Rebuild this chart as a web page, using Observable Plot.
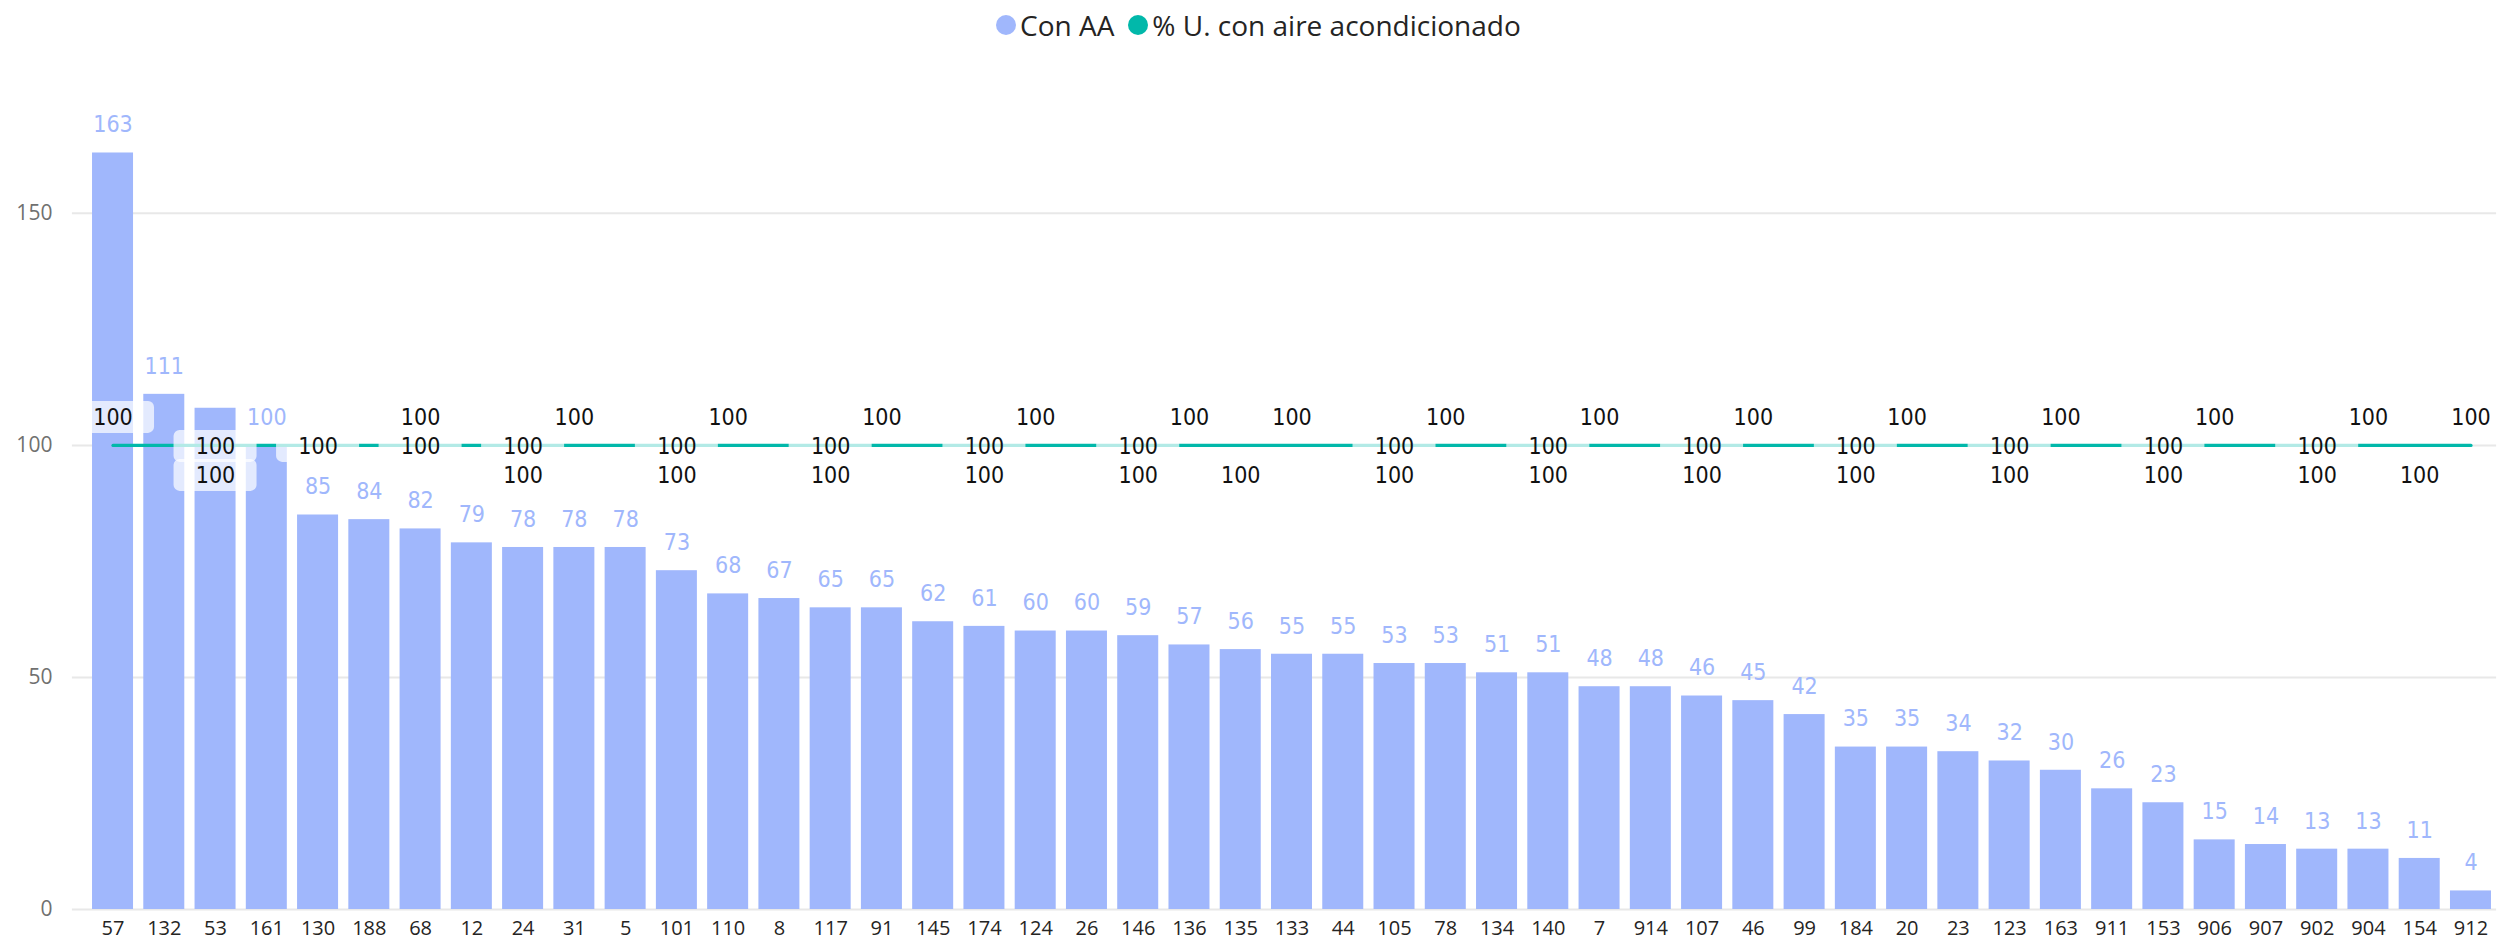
<!DOCTYPE html>
<html>
<head>
<meta charset="utf-8">
<script src="https://cdn.jsdelivr.net/npm/d3@7"></script>
<script src="https://cdn.jsdelivr.net/npm/@observablehq/plot@0.6"></script>
<style>
  html, body { margin: 0; padding: 0; background: #fff; }
  #legend { height: 50px; display: flex; align-items: center; padding-left: 996px;
            font-family: "Open Sans", sans-serif; font-size: 28px; color: #252423; white-space: nowrap; }
  #legend .sw { width: 20px; height: 20px; border-radius: 50%; display: inline-block; margin-right: 4px; }
  #legend .item { display: flex; align-items: center; margin-right: 14px; }
  #chart svg { display: block; }
</style>
</head>
<body>
<div id="legend"></div>
<div id="chart"></div>
<script>
const categories = ["57","132","53","161","130","188","68","12","24","31","5","101","110","8","117","91","145","174","124","26","146","136","135","133","44","105","78","134","140","7","914","107","46","99","184","20","23","123","163","911","153","906","907","902","904","154","912"];
const conAA = [163,111,108,100,85,84,82,79,78,78,78,73,68,67,65,65,62,61,60,60,59,57,56,55,55,53,53,51,51,48,48,46,45,42,35,35,34,32,30,26,23,15,14,13,13,11,4];
const pctAA = [100,100,100,100,100,100,100,100,100,100,100,100,100,100,100,100,100,100,100,100,100,100,100,100,100,100,100,100,100,100,100,100,100,100,100,100,100,100,100,100,100,100,100,100,100,100,100];
const yTicks = [0, 50, 100, 150];
const seriesNames = ["Con AA", "% U. con aire acondicionado"];
const seriesColors = ["#A0B7FC", "#01B8AA"];
const hiddenBarLabels = ["53"];
const lineLabelsAbove = ["57","68","31","110","91","124","136","133","78","7","46","20","163","906","904","912"];
const lineLabelsOn = ["53","130","68","24","101","117","174","146","105","140","107","184","123","153","902"];
const lineLabelsBelow = ["53","24","101","117","174","146","135","105","140","107","184","123","153","902","154"];

const data = categories.map((c, i) => ({cat: c, aa: conAA[i], pct: pctAA[i]}));

// legend
const legend = document.getElementById("legend");
seriesNames.forEach((n, i) => {
  const it = document.createElement("span");
  it.className = "item";
  const sw = document.createElement("span");
  sw.className = "sw";
  sw.style.background = seriesColors[i];
  it.appendChild(sw);
  it.appendChild(document.createTextNode(n));
  legend.appendChild(it);
});

const labelFont = "'DejaVu Sans Condensed', 'DejaVu Sans', sans-serif";
const rows = [
  {cats: lineLabelsAbove, dy: -28},
  {cats: lineLabelsOn, dy: 1},
  {cats: lineLabelsBelow, dy: 30}
];
const rowMarks = [];
rows.forEach(r => {
  const rd = data.filter(d => r.cats.includes(d.cat));
  rowMarks.push(Plot.barY(rd, {x: "cat", y1: "pct", y2: "pct", dy: r.dy,
    insetTop: -16, insetBottom: -16, insetLeft: -21, insetRight: -21, rx: 6,
    fill: "white", fillOpacity: 0.7}));
});
rows.forEach(r => {
  const rd = data.filter(d => r.cats.includes(d.cat));
  rowMarks.push(Plot.text(rd, {x: "cat", y: "pct", text: d => String(d.pct), dy: r.dy,
    fill: "#111", fontFamily: labelFont, fontSize: 23}));
});

const chart = Plot.plot({
  width: 2504,
  height: 892,
  marginLeft: 86.9,
  marginRight: 7.9,
  marginTop: 70,
  marginBottom: 33,
  style: {fontFamily: "'Open Sans', sans-serif", fontSize: "20px", background: "white"},
  x: {domain: categories, paddingInner: 0.2, paddingOuter: 0.1, round: false, label: null},
  y: {domain: [0, 170], label: null},
  marks: [
    Plot.ruleY(yTicks, {stroke: "#e8e8e8", strokeWidth: 2, insetLeft: -15}),
    Plot.barY(data, {x: "cat", y: "aa", fill: seriesColors[0]}),
    Plot.text(data.filter(d => !hiddenBarLabels.includes(d.cat)), {x: "cat", y: "aa", text: d => String(d.aa),
      dy: -28, fill: seriesColors[0], fontFamily: labelFont, fontSize: 23}),
    Plot.line(data, {x: "cat", y: "pct", stroke: seriesColors[1], strokeWidth: 3.3, strokeLinecap: "round"}),
    ...rowMarks,
    Plot.axisX({tickSize: 0, tickPadding: 11, color: "#252423", fontSize: 20}),
    Plot.axisY({ticks: yTicks, tickSize: 0, tickPadding: 35, color: "#707070", fontSize: 21})
  ]
});
document.getElementById("chart").appendChild(chart);
</script>
</body>
</html>
